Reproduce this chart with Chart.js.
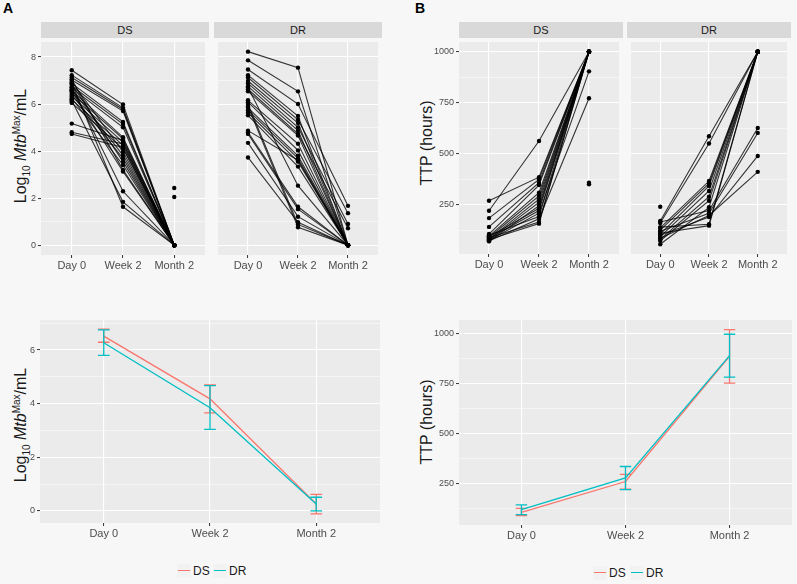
<!DOCTYPE html>
<html>
<head>
<meta charset="utf-8">
<script src="https://cdn.jsdelivr.net/npm/chart.js@4.4.1/dist/chart.umd.min.js"></script>
<style>
  body { margin: 0; background: #f7f7f7; font-family: "Liberation Sans", Arial, sans-serif; }
  #fig { position: relative; width: 797px; height: 584px; overflow: hidden; }
  canvas { position: absolute; }
  .letter { position: absolute; top: 0; font-size: 14px; font-weight: bold; line-height: 16px; color: #000; }
  .strip { position: absolute; top: 22px; height: 16px; line-height: 16px; background: #d9d9d9;
           color: #1a1a1a; font-size: 11px; text-align: center; }
  .ytitle { position: absolute; font-size: 16px; color: #1a1a1a; white-space: nowrap;
            transform: translate(-50%, -50%) rotate(-90deg); line-height: 18px; }
  .ytitle sub, .ytitle sup { font-size: 10px; line-height: 0; }
  .key { position: absolute; width: 14px; height: 14px; background: #f2f2f2; }
  .key i { position: absolute; left: 1px; right: 1px; top: 6px; height: 1.3px; }
  .ltext { position: absolute; font-size: 12px; line-height: 14px; color: #1a1a1a; }
</style>
</head>
<body>
<div id="fig">
  <div class="letter" style="left:3px">A</div>
  <div class="letter" style="left:415px">B</div>

  <div class="strip" style="left:41px;width:168px">DS</div>
  <div class="strip" style="left:214px;width:168px">DR</div>
  <div class="strip" style="left:459px;width:164px">DS</div>
  <div class="strip" style="left:627px;width:164px">DR</div>

  <div class="ytitle" style="left:21px;top:146px">Log<sub>10</sub> <i>Mtb</i><sup>Max</sup>/mL</div>
  <div class="ytitle" style="left:21px;top:425px">Log<sub>10</sub> <i>Mtb</i><sup>Max</sup>/mL</div>
  <div class="ytitle" style="left:427px;top:143px">TTP (hours)</div>
  <div class="ytitle" style="left:427px;top:422px">TTP (hours)</div>

  <canvas id="aDS" width="209" height="239" style="left:0;top:38px"></canvas>
  <canvas id="aDR" width="168" height="239" style="left:214px;top:38px"></canvas>
  <canvas id="bDS" width="223" height="238" style="left:400px;top:38px"></canvas>
  <canvas id="bDR" width="164" height="238" style="left:627px;top:38px"></canvas>
  <canvas id="aMean" width="380" height="225" style="left:0;top:320px"></canvas>
  <canvas id="bMean" width="392" height="227" style="left:400px;top:320px"></canvas>

  <div class="key" style="left:177px;top:564px"><i style="background:#F8766D"></i></div>
  <div class="ltext" style="left:193px;top:564px">DS</div>
  <div class="key" style="left:213px;top:564px"><i style="background:#00BFC4"></i></div>
  <div class="ltext" style="left:229px;top:564px">DR</div>

  <div class="key" style="left:593px;top:566px"><i style="background:#F8766D"></i></div>
  <div class="ltext" style="left:609px;top:566px">DS</div>
  <div class="key" style="left:630px;top:566px"><i style="background:#00BFC4"></i></div>
  <div class="ltext" style="left:646px;top:566px">DR</div>
</div>

<script>
// time points
const xLabels = ['Day 0', 'Week 2', 'Month 2'];

// A: log10 Mtb per subject, DS
const dsLogDay0 = [7.44, 7.23, 7.13, 7.02, 6.88, 6.77, 6.68, 6.58, 6.47, 6.33, 6.19, 6.05, 6.95, 6.62, 6.40, 6.85, 6.25, 7.05, 6.55, 6.72, 6.15, 6.90, 5.17, 4.80, 4.73, 6.10, 6.60];
const dsLogWeek2 = [5.98, 5.84, 5.77, 5.70, 5.24, 5.15, 5.01, 4.59, 4.52, 4.38, 4.24, 4.10, 3.96, 3.82, 3.69, 3.55, 3.41, 3.20, 3.13, 2.29, 1.84, 1.63, 4.45, 4.30, 4.15, null, null];
const dsLogMonth2 = [0, 0, 0, 0, 0, 0, 0, 0, 0, 0, 0, 0, 0, 0, 0, 0, 0, 0, 0, 0, 0, 0, 0, 0, 0, 2.43, 2.05];

// A: log10 Mtb per subject, DR
const drLogDay0 = [8.23, 7.86, 7.47, 7.23, 7.13, 6.98, 6.88, 6.75, 6.63, 6.54, 6.16, 6.08, 5.84, 5.74, 5.63, 5.52, 4.87, 6.70, 4.80, 4.73, 4.35, 3.73, 6.00, 5.90];
const drLogWeek2 = [7.55, 6.54, 6.00, 5.49, 5.33, 5.19, 5.01, 4.87, 4.73, 4.66, 4.31, 4.03, 3.80, 3.69, 3.55, 3.34, 3.61, 2.53, 1.63, 1.53, 1.21, 0.97, 0.88, 0.76];
const drLogMonth2 = [0, 0, 1.67, 0, 1.36, 0, 0.90, 0, 0.72, 0, 0, 0, 0, 0, 0, 0, 0, 0, 0, 0, 0, 0, 0, 0];

// B: TTP (hours) per subject, DS
const dsTtpDay0 = [220, 269, 184, 141, 106, 96, 89, 81, 77, 70, 92, 84, 75, 100, 72, 88, 79, 95, 83];
const dsTtpWeek2 = [562, 385, 374, 358, 346, 309, 293, 277, 261, 245, 232, 221, 208, 192, 181, 165, 157, null, null];
const dsTtpMonth2 = [1000, 1000, 1000, 1000, 1000, 1000, 1000, 1000, 1000, 1000, 1000, 1000, 904, 1000, 772, 1000, 1000, 358, 350];

// B: TTP (hours) per subject, DR
const drTtpDay0 = [170, 160, 136, 125, 106, 93, 80, 73, 56, 165, 120, 100, 85, 140, 110, 240];
const drTtpWeek2 = [586, 550, 366, 354, 342, 317, 289, 269, 237, 221, 208, 189, 197, 154, 147, null];
const drTtpMonth2 = [1000, 1000, 1000, 1000, 1000, 1000, 1000, 1000, 1000, 626, 602, 489, 411, 1000, 1000, null];

// summary lines with error bars
const dsLogMean = [6.52, 4.18, 0.26];
const dsLogLow = [6.29, 3.66, -0.11];
const dsLogHigh = [6.78, 4.70, 0.62];
const drLogMean = [6.27, 3.85, 0.26];
const drLogLow = [5.80, 3.04, 0.00];
const drLogHigh = [6.75, 4.67, 0.51];

const dsTtpMean = [108, 262, 887];
const dsTtpLow = [92, 224, 753];
const dsTtpHigh = [128, 298, 1020];
const drTtpMean = [122, 280, 890];
const drTtpLow = [97, 222, 783];
const drTtpHigh = [145, 337, 997];

const logMajor = [0, 2, 4, 6, 8];
const logMinor = [1, 3, 5, 7];
const ttpMajor = [250, 500, 750, 1000];
const ttpMinor = [125, 375, 625, 875];

const DS_COLOR = '#F8766D';
const DR_COLOR = '#00BFC4';
const CAP = 0.055;

Chart.defaults.font.family = '"Liberation Sans", Arial, sans-serif';

const panelBg = {
    id: 'panelBg',
    beforeDraw(chart) {
        const { ctx, chartArea: a } = chart;
        ctx.save();
        ctx.fillStyle = '#ebebeb';
        ctx.fillRect(a.left, a.top, a.width, a.height);
        ctx.restore();
    }
};

const subjectLines = (day0, week2, month2) => day0.map((d, i) => ({
    data: [{ x: 0, y: d }, { x: 1, y: week2[i] }, { x: 2, y: month2[i] }],
    borderColor: 'rgba(0,0,0,0.78)',
    borderWidth: 1.1,
    pointRadius: 2.2,
    pointBorderWidth: 0,
    pointBackgroundColor: '#000',
    spanGaps: false
}));

const meanLine = (mean, color) => ({
    data: mean.map((v, i) => ({ x: i, y: v })),
    borderColor: color,
    borderWidth: 1.3,
    pointRadius: 0
});

const errorBars = (low, high, color) => {
    const pts = [];
    low.forEach((lo, i) => {
        const hi = high[i];
        pts.push({ x: i, y: lo }, { x: i, y: hi }, { x: i, y: null });
        pts.push({ x: i - CAP, y: lo }, { x: i + CAP, y: lo }, { x: i, y: null });
        pts.push({ x: i - CAP, y: hi }, { x: i + CAP, y: hi }, { x: i, y: null });
    });
    return { data: pts, borderColor: color, borderWidth: 1.3, pointRadius: 0, spanGaps: false };
};

const buildChart = (id, datasets, yMin, yMax, major, minor, yWidth) => {
    const yTicks = major.concat(minor).filter(v => v >= yMin && v <= yMax).sort((a, b) => a - b);
    const isMajor = c => c.tick && major.includes(c.tick.value);
    return new Chart(document.getElementById(id), {
        type: 'line',
        data: { datasets },
        options: {
            responsive: false,
            animation: false,
            layout: { padding: 0 },
            plugins: { legend: { display: false }, tooltip: { enabled: false } },
            scales: {
                x: {
                    type: 'linear',
                    min: -0.6,
                    max: 2.6,
                    afterBuildTicks: s => { s.ticks = [0, 1, 2].map(v => ({ value: v })); },
                    afterFit: s => { s.height = 22; s.paddingLeft = 0; s.paddingRight = 0; },
                    ticks: {
                        callback: v => xLabels[v],
                        color: '#4d4d4d',
                        font: { size: 11 },
                        padding: 1,
                        maxRotation: 0,
                        autoSkip: false
                    },
                    grid: { color: '#ffffff', lineWidth: 1.1, tickColor: '#333333', tickWidth: 1, tickLength: 3 },
                    border: { display: false }
                },
                y: {
                    type: 'linear',
                    min: yMin,
                    max: yMax,
                    afterBuildTicks: s => { s.ticks = yTicks.map(v => ({ value: v })); },
                    afterFit: s => { s.width = yWidth; s.paddingTop = 0; s.paddingBottom = 0; },
                    ticks: {
                        display: yWidth > 0,
                        callback: v => major.includes(v) ? String(v) : '',
                        color: '#4d4d4d',
                        font: { size: 9 },
                        padding: 2,
                        autoSkip: false
                    },
                    grid: {
                        color: '#ffffff',
                        lineWidth: c => isMajor(c) ? 1.1 : 0.5,
                        tickColor: c => isMajor(c) ? '#333333' : 'rgba(0,0,0,0)',
                        tickWidth: 1,
                        tickLength: 3,
                        drawTicks: yWidth > 0
                    },
                    border: { display: false }
                }
            }
        },
        plugins: [panelBg]
    });
};

buildChart('aDS', subjectLines(dsLogDay0, dsLogWeek2, dsLogMonth2), -0.42, 8.64, logMajor, logMinor, 41);
buildChart('aDR', subjectLines(drLogDay0, drLogWeek2, drLogMonth2), -0.42, 8.64, logMajor, logMinor, 0);
buildChart('bDS', subjectLines(dsTtpDay0, dsTtpWeek2, dsTtpMonth2), 8, 1048, ttpMajor, ttpMinor, 59);
buildChart('bDR', subjectLines(drTtpDay0, drTtpWeek2, drTtpMonth2), 8, 1048, ttpMajor, ttpMinor, 0);

buildChart('aMean', [
    meanLine(drLogMean, DR_COLOR),
    errorBars(drLogLow, drLogHigh, DR_COLOR),
    meanLine(dsLogMean, DS_COLOR),
    errorBars(dsLogLow, dsLogHigh, DS_COLOR)
], -0.45, 7.12, logMajor, logMinor, 40);

buildChart('bMean', [
    meanLine(drTtpMean, DR_COLOR),
    errorBars(drTtpLow, drTtpHigh, DR_COLOR),
    meanLine(dsTtpMean, DS_COLOR),
    errorBars(dsTtpLow, dsTtpHigh, DS_COLOR)
], 45, 1068, ttpMajor, ttpMinor, 59);
</script>
</body>
</html>
